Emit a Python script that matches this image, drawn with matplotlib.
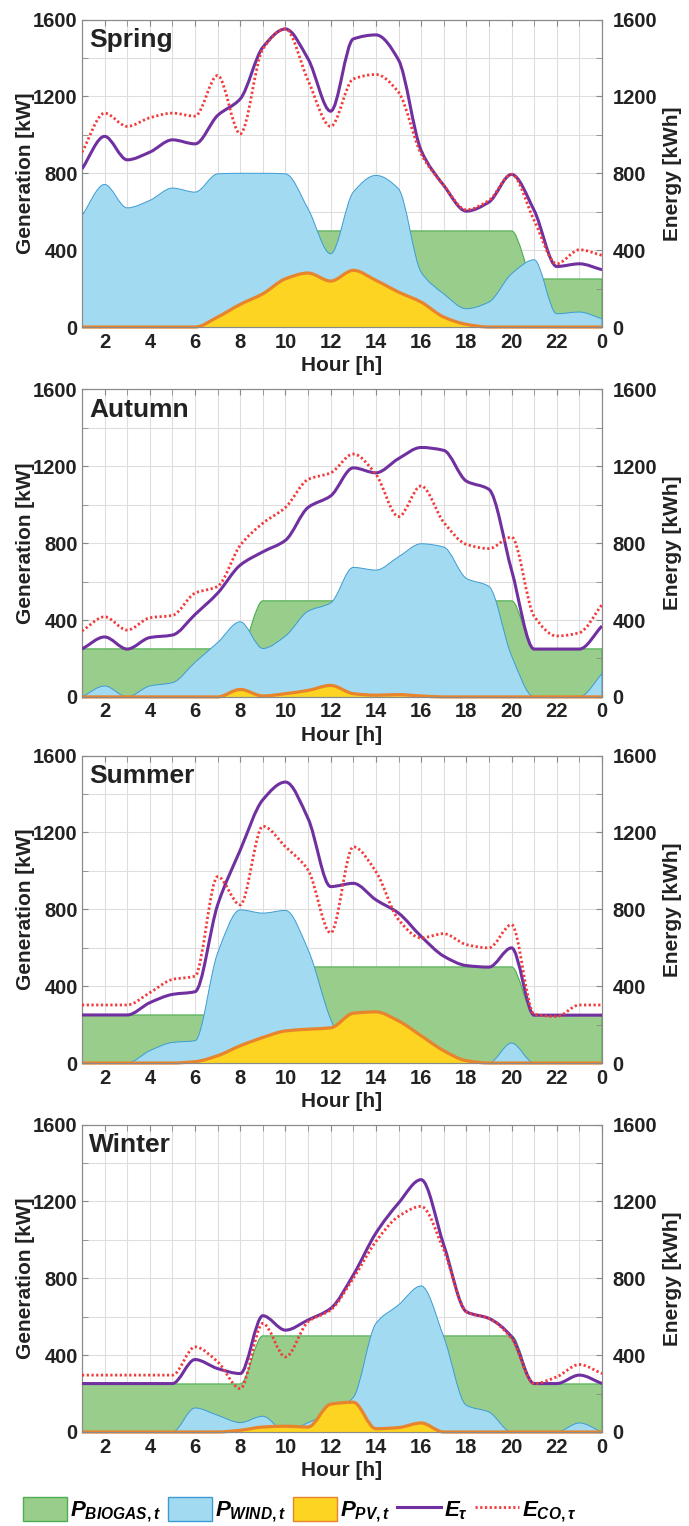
import numpy as np
import matplotlib.pyplot as plt
from matplotlib.patches import Patch, PathPatch
from matplotlib.lines import Line2D
from matplotlib.path import Path
from matplotlib.ticker import MultipleLocator, FixedLocator

plt.rcParams['font.family'] = ['Liberation Sans', 'DejaVu Sans']
plt.rcParams['font.weight'] = 'bold'
plt.rcParams['mathtext.fontset'] = 'custom'
plt.rcParams['mathtext.it'] = 'Liberation Sans:bold:italic'
plt.rcParams['mathtext.rm'] = 'Liberation Sans:bold'
plt.rcParams['mathtext.bf'] = 'Liberation Sans:bold'

# === Data (hours 1..24, values in kW / kWh) ===
hours = np.arange(1, 25)
seasons = ['Spring', 'Autumn', 'Summer', 'Winter']

biogas_spring = [250, 250, 250, 250, 250, 250, 250, 250, 250, 250, 500, 500,
                 500, 500, 500, 500, 500, 500, 500, 500, 250, 250, 250, 250]
wind_spring = [580, 742, 620, 659, 723, 702, 797, 800, 800, 797, 615, 381,
               702, 789, 719, 286, 173, 95, 130, 277, 350, 69, 78, 43]
pv_spring = [0, 0, 0, 0, 0, 0, 52, 118, 173, 251, 281, 239,
             295, 243, 182, 130, 52, 14, 0, 0, 0, 0, 0, 0]
e_spring = [823, 992, 870, 910, 974, 953, 1101, 1187, 1456, 1551, 1395, 1123,
            1499, 1520, 1390, 919, 737, 603, 650, 794, 607, 315, 329, 298]
eco_spring = [910, 1113, 1044, 1089, 1113, 1097, 1309, 1005, 1447, 1551, 1283, 1044,
              1291, 1314, 1222, 901, 737, 610, 659, 794, 555, 329, 402, 373]

biogas_autumn = [250, 250, 250, 250, 250, 250, 250, 250, 500, 500, 500, 500,
                 500, 500, 500, 500, 500, 500, 500, 500, 250, 250, 250, 250]
wind_autumn = [0, 57, 0, 57, 74, 180, 283, 391, 252, 317, 446, 489,
               674, 660, 729, 797, 780, 617, 575, 214, 0, 0, 0, 120]
pv_autumn = [0, 0, 0, 0, 0, 0, 0, 39, 5, 17, 34, 60,
             17, 9, 12, 5, 0, 0, 0, 0, 0, 0, 0, 0]
e_autumn = [249, 312, 249, 309, 322, 429, 540, 686, 755, 815, 986, 1046,
            1192, 1166, 1240, 1298, 1283, 1123, 1080, 660, 249, 249, 249, 369]
eco_autumn = [343, 417, 348, 412, 424, 540, 575, 789, 904, 986, 1132, 1166,
              1264, 1158, 938, 1098, 909, 794, 772, 832, 420, 317, 334, 480]

biogas_summer = [250, 250, 250, 250, 250, 250, 250, 250, 250, 250, 500, 500,
                 500, 500, 500, 500, 500, 500, 500, 500, 250, 250, 250, 250]
wind_summer = [0, 0, 0, 64, 107, 116, 573, 797, 780, 794, 590, 228,
               0, 0, 0, 0, 0, 0, 0, 104, 0, 0, 0, 0]
pv_summer = [0, 0, 0, 0, 0, 7, 38, 90, 133, 167, 176, 183,
             259, 266, 219, 142, 64, 12, 0, 0, 0, 0, 0, 0]
e_summer = [250, 250, 250, 314, 357, 371, 823, 1108, 1370, 1462, 1272, 918,
            935, 849, 780, 659, 556, 507, 499, 599, 249, 249, 249, 249]
eco_summer = [302, 302, 302, 366, 435, 452, 970, 823, 1232, 1125, 1004, 677,
              1125, 996, 746, 651, 673, 616, 599, 720, 254, 242, 302, 302]

biogas_winter = [250, 250, 250, 250, 250, 250, 250, 250, 500, 500, 500, 500,
                 500, 500, 500, 500, 500, 500, 500, 500, 250, 250, 250, 250]
wind_winter = [0, 0, 0, 0, 0, 125, 87, 49, 82, 0, 49, 100,
               180, 565, 661, 760, 496, 139, 104, 0, 0, 0, 47, 0]
pv_winter = [0, 0, 0, 0, 0, 0, 0, 9, 26, 30, 26, 145,
             155, 17, 23, 47, 0, 0, 0, 0, 0, 0, 0, 0]
e_winter = [252, 252, 252, 252, 252, 377, 330, 304, 605, 530, 583, 643,
            817, 1035, 1191, 1313, 974, 626, 591, 496, 252, 252, 296, 252]
eco_winter = [296, 296, 296, 296, 296, 443, 365, 226, 565, 391, 574, 635,
              800, 991, 1122, 1174, 948, 626, 591, 487, 252, 287, 351, 304]

season_data = {
    'Spring': (biogas_spring, wind_spring, pv_spring, e_spring, eco_spring),
    'Autumn': (biogas_autumn, wind_autumn, pv_autumn, e_autumn, eco_autumn),
    'Summer': (biogas_summer, wind_summer, pv_summer, e_summer, eco_summer),
    'Winter': (biogas_winter, wind_winter, pv_winter, e_winter, eco_winter),
}

x_ticks = list(range(2, 25, 2))
x_ticklabels = [str(h % 24) for h in x_ticks]
y_ticks = [0, 400, 800, 1200, 1600]

# colours
c_green, c_green_edge = '#98CD8B', '#4DAE4F'
c_blue, c_blue_edge = '#A2DBF1', '#3D9BD3'
c_yellow, c_orange = '#FDD421', '#E8842C'
c_purple, c_red = '#7030A0', '#F23A3A'
c_text = '#222222'
red_dots = (0, (0.8, 0.9))


def smooth_curve(x, y):
    # shape-preserving cubic (pchip-like) drawn as bezier segments
    x = np.asarray(x, float)
    y = np.asarray(y, float)
    h = np.diff(x)
    d = np.diff(y) / h
    m = np.zeros_like(y)
    for k in range(1, len(y) - 1):
        if d[k - 1] * d[k] > 0:
            w1 = 2 * h[k] + h[k - 1]
            w2 = h[k] + 2 * h[k - 1]
            m[k] = (w1 + w2) / (w1 / d[k - 1] + w2 / d[k])
    m[0], m[-1] = d[0], d[-1]
    verts = [(x[0], y[0])]
    codes = [Path.MOVETO]
    for k in range(len(x) - 1):
        verts += [(x[k] + h[k] / 3, y[k] + m[k] * h[k] / 3),
                  (x[k + 1] - h[k] / 3, y[k + 1] - m[k + 1] * h[k] / 3),
                  (x[k + 1], y[k + 1])]
        codes += [Path.CURVE4] * 3
    return verts, codes


def smooth_line(ax, x, y, **kw):
    verts, codes = smooth_curve(x, y)
    ax.add_patch(PathPatch(Path(verts, codes), fill=False, **kw))


def smooth_area(ax, x, y, **kw):
    verts, codes = smooth_curve(x, y)
    verts += [(x[-1], 0), (x[0], 0), (x[0], 0)]
    codes += [Path.LINETO, Path.LINETO, Path.CLOSEPOLY]
    ax.add_patch(PathPatch(Path(verts, codes), **kw))


# === Plot ===
fig = plt.figure(figsize=(6.89, 15.26), dpi=100)
bottoms = [0.7857, 0.5433, 0.3034, 0.0616]

for season, bottom in zip(seasons, bottoms):
    biogas, wind, pv, e_tau, e_co = season_data[season]
    ax = fig.add_axes([0.119, bottom, 0.7547, 0.2015])
    ax.set_axisbelow(True)

    smooth_area(ax, hours, biogas, facecolor=c_green, edgecolor=c_green_edge, linewidth=0.8, zorder=2)
    smooth_area(ax, hours, wind, facecolor=c_blue, edgecolor=c_blue_edge, linewidth=0.7, zorder=3)
    smooth_area(ax, hours, pv, facecolor=c_yellow, edgecolor='none', zorder=4)
    smooth_line(ax, hours, pv, edgecolor=c_orange, linewidth=2.3, zorder=5, clip_on=False)

    ax.set_xlim(1, 24)
    ax.set_ylim(0, 1600)
    ax.xaxis.set_major_locator(FixedLocator(x_ticks))
    ax.set_xticklabels(x_ticklabels)
    ax.xaxis.set_minor_locator(MultipleLocator(1))
    ax.yaxis.set_major_locator(FixedLocator(y_ticks))
    ax.yaxis.set_minor_locator(MultipleLocator(200))
    ax.grid(True, which='both', color='#DEDEDE', linewidth=0.8)
    ax.tick_params(which='both', direction='in', top=True, length=4, color='#888888',
                   labelsize=14.5, labelcolor=c_text)
    ax.tick_params(axis='y', pad=3)
    ax.tick_params(axis='x', pad=4)
    for sp in ax.spines.values():
        sp.set_color('#8A8A8A')
    ax.set_xlabel('Hour [h]', fontsize=15, fontweight='bold', color=c_text, labelpad=3)
    ax.set_ylabel('Generation [kW]', fontsize=15, fontweight='bold', color=c_text, labelpad=-1)
    ax.text(0.014, 0.972, season, transform=ax.transAxes, ha='left', va='top',
            fontsize=19, fontweight='bold', color=c_text, zorder=10)

    ax2 = ax.twinx()
    smooth_line(ax2, hours, e_tau, edgecolor=c_purple, linewidth=2.2, zorder=6)
    smooth_line(ax2, hours, e_co, edgecolor=c_red, linewidth=2.0, linestyle=red_dots, zorder=7)
    ax2.set_ylim(0, 1600)
    ax2.yaxis.set_major_locator(FixedLocator(y_ticks))
    ax2.yaxis.set_minor_locator(MultipleLocator(200))
    ax2.tick_params(which='both', direction='in', length=4, color='#888888',
                    labelsize=14.5, labelcolor=c_text, pad=7.5)
    for sp in ax2.spines.values():
        sp.set_color('#8A8A8A')
    ax2.set_ylabel('Energy [kWh]', fontsize=15, fontweight='bold', color=c_text, labelpad=4)

# === Legend ===
handles = [
    Patch(facecolor=c_green, edgecolor=c_green_edge, linewidth=1.0),
    Patch(facecolor=c_blue, edgecolor=c_blue_edge, linewidth=1.0),
    Patch(facecolor=c_yellow, edgecolor=c_orange, linewidth=1.0),
    Line2D([], [], color=c_purple, linewidth=2.2),
    Line2D([], [], color=c_red, linewidth=2.0, linestyle=red_dots),
]
labels = [r'$P_{BIOGAS,t}$', r'$P_{WIND,t}$', r'$P_{PV,t}$', r'$E_{\tau}$', r'$E_{CO,\tau}$']
fig.legend(handles, labels, loc='upper left', bbox_to_anchor=(23 / 689, 1 - 1497 / 1526),
           ncol=5, frameon=False, fontsize=16, handlelength=2.0, handleheight=1.25,
           handletextpad=0.12, columnspacing=0.3, borderpad=0, borderaxespad=0)

fig.savefig('out.png', dpi=100)
